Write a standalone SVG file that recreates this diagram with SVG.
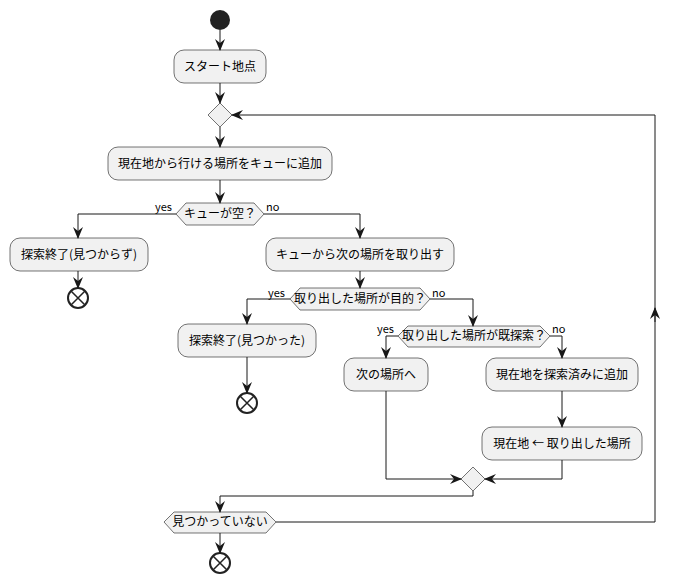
<svg xmlns="http://www.w3.org/2000/svg" width="679" height="584" viewBox="0 0 679 584">
<defs>
<marker id="ah" viewBox="0 0 12 10" refX="11" refY="5" markerWidth="12" markerHeight="10" markerUnits="userSpaceOnUse" orient="auto"><path d="M0,0 L12,5 L0,10 L4,5 Z" fill="#181818"/></marker>
<style>
.b{fill:#F1F1F1;stroke:#181818;stroke-width:0.6}
.t{font-family:"Noto Sans CJK JP","Liberation Sans",sans-serif;font-size:12px;fill:#000;text-anchor:middle}
.l{font-family:"Noto Sans CJK JP","Liberation Sans",sans-serif;font-size:11px;fill:#000}
.c{fill:none;stroke:#181818;stroke-width:1}
.e{fill:none;stroke:#222;stroke-width:1.5}
</style>
</defs>
<rect width="679" height="584" fill="#fff"/>
<g id="start"><circle cx="220" cy="20" r="10" fill="#222"/></g>
<g id="n1"><rect class="b" x="174" y="50" width="92" height="33" rx="10"/><text class="t" x="220" y="71">スタート地点</text></g>
<g id="m1"><polygon class="b" points="208,115 220,103 232,115 220,127"/></g>
<g id="n2"><rect class="b" x="108" y="147" width="224" height="33" rx="10"/><text class="t" x="220" y="168">現在地から行ける場所をキューに追加</text></g>
<g id="d1"><polygon class="b" points="176,214 186,203 254,203 264,214 254,225 186,225"/><text class="t" x="220" y="218">キューが空？</text><text class="l" x="155" y="211">yes</text><text class="l" x="266" y="211">no</text></g>
<g id="n3"><rect class="b" x="10" y="238" width="138" height="33" rx="10"/><text class="t" x="79" y="259">探索終了(見つからず)</text></g>
<g id="end1"><circle cx="78" cy="298" r="10" fill="#fff" stroke="#222" stroke-width="2"/><path class="e" d="M71,291 L85,305 M85,291 L71,305"/></g>
<g id="n4"><rect class="b" x="266" y="238" width="188" height="33" rx="10"/><text class="t" x="360" y="259">キューから次の場所を取り出す</text></g>
<g id="d2"><polygon class="b" points="290,299 300,288 420,288 430,299 420,310 300,310"/><text class="t" x="360" y="303">取り出した場所が目的？</text><text class="l" x="268" y="297">yes</text><text class="l" x="432" y="297">no</text></g>
<g id="n5"><rect class="b" x="178" y="324" width="138" height="33" rx="10"/><text class="t" x="247" y="345">探索終了(見つかった)</text></g>
<g id="end2"><circle cx="247" cy="403" r="10" fill="#fff" stroke="#222" stroke-width="2"/><path class="e" d="M240,396 L254,410 M254,396 L240,410"/></g>
<g id="d3"><polygon class="b" points="398,336 408,326 540,326 550,336 540,347 408,347"/><text class="t" x="474" y="340">取り出した場所が既探索？</text><text class="l" x="377" y="333">yes</text><text class="l" x="552" y="333">no</text></g>
<g id="n6"><rect class="b" x="344" y="358" width="84" height="33" rx="10"/><text class="t" x="386" y="379">次の場所へ</text></g>
<g id="n7"><rect class="b" x="486" y="358" width="152" height="33" rx="10"/><text class="t" x="562" y="379">現在地を探索済みに追加</text></g>
<g id="n8"><rect class="b" x="482" y="427" width="160" height="33" rx="10"/><text class="t" x="562" y="448">現在地 ← 取り出した場所</text></g>
<g id="m2"><polygon class="b" points="461,479 473,467 485,479 473,491"/></g>
<g id="d4"><polygon class="b" points="164,522 174,512 266,512 276,522 266,533 174,533"/><text class="t" x="220" y="526">見つかっていない</text></g>
<g id="end3"><circle cx="220" cy="563" r="10" fill="#fff" stroke="#222" stroke-width="2"/><path class="e" d="M213,556 L227,570 M227,556 L213,570"/></g>
<g id="connectors">
<path class="c" d="M220,30 V50" marker-end="url(#ah)"/>
<path class="c" d="M220,83 V103" marker-end="url(#ah)"/>
<path class="c" d="M220,127 V147" marker-end="url(#ah)"/>
<path class="c" d="M220,180 V203" marker-end="url(#ah)"/>
<path class="c" d="M176,214 H78 V238" marker-end="url(#ah)"/>
<path class="c" d="M78,271 V288" marker-end="url(#ah)"/>
<path class="c" d="M264,214 H360 V238" marker-end="url(#ah)"/>
<path class="c" d="M360,271 V288" marker-end="url(#ah)"/>
<path class="c" d="M290,299 H247 V324" marker-end="url(#ah)"/>
<path class="c" d="M247,357 V393" marker-end="url(#ah)"/>
<path class="c" d="M430,299 H473 V326" marker-end="url(#ah)"/>
<path class="c" d="M398,336 H386 V358" marker-end="url(#ah)"/>
<path class="c" d="M550,336 H562 V358" marker-end="url(#ah)"/>
<path class="c" d="M562,391 V427" marker-end="url(#ah)"/>
<path class="c" d="M386,391 V479 H461" marker-end="url(#ah)"/>
<path class="c" d="M562,460 V479 H485" marker-end="url(#ah)"/>
<path class="c" d="M473,491 V496 H220 V512" marker-end="url(#ah)"/>
<path class="c" d="M220,533 V553" marker-end="url(#ah)"/>
<path class="c" d="M276,522 H655 V115 H232" marker-end="url(#ah)"/>
<path class="c" d="M655,322 V308" marker-end="url(#ah)"/>
</g>
</svg>
